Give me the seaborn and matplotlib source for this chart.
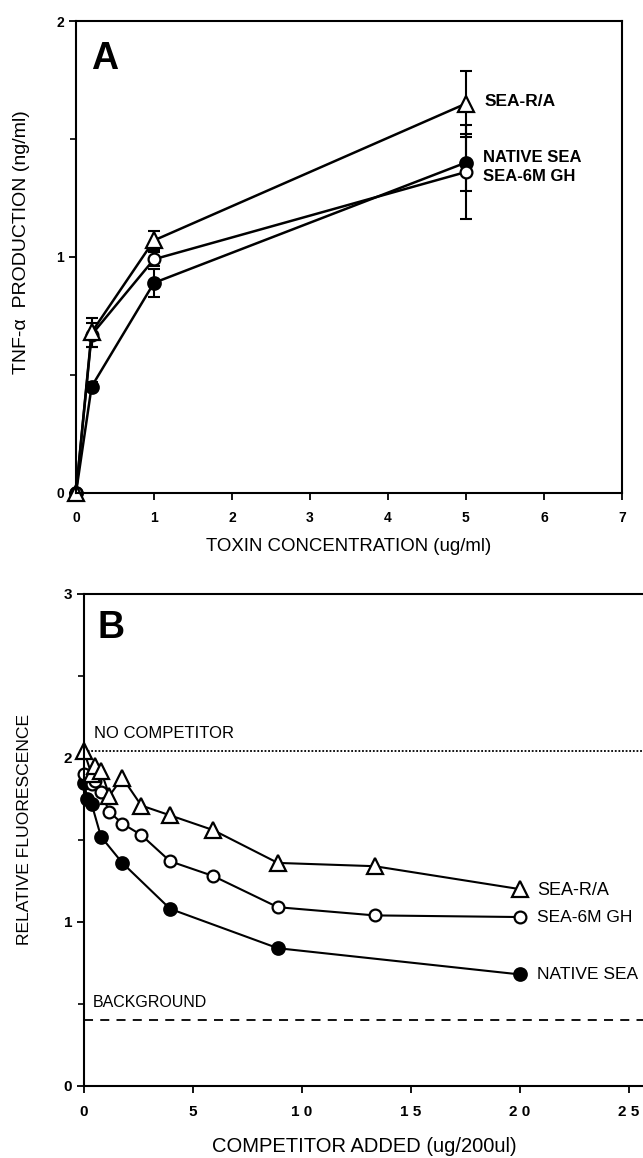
import matplotlib
matplotlib.use("Agg")
import matplotlib.pyplot as plt
import seaborn as sns

# Panel A: TNF-alpha production vs toxin concentration
tox_conc = [0, 0.2, 1, 5]
a_sea_ra = [0, 0.68, 1.07, 1.65]
a_sea_ra_err = [0, 0.06, 0.04, 0.14]
a_native = [0, 0.45, 0.89, 1.40]
a_native_err = [0, 0.02, 0.06, 0.12]
a_sea6m = [0, 0.67, 0.99, 1.36]
a_sea6m_err = [0, 0.05, 0.03, 0.20]

# Panel B: relative fluorescence vs competitor added
b_x_ra = [0, 0.35, 0.52, 0.78, 1.17, 1.76, 2.63, 3.95, 5.93, 8.89, 13.33, 20]
b_sea_ra = [2.04, 1.90, 1.95, 1.92, 1.77, 1.88, 1.71, 1.65, 1.56, 1.36, 1.34, 1.20]
b_x_6m = [0, 0.35, 0.52, 0.78, 1.17, 1.76, 2.63, 3.95, 5.93, 8.89, 13.33, 20]
b_sea6m = [1.90, 1.84, 1.86, 1.79, 1.67, 1.60, 1.53, 1.37, 1.28, 1.09, 1.04, 1.03]
b_x_nat = [0, 0.16, 0.35, 0.78, 1.76, 3.95, 8.89, 20]
b_native = [1.85, 1.75, 1.72, 1.52, 1.36, 1.08, 0.84, 0.68]
no_competitor = 2.04
background = 0.40

sns.set_style("ticks")
plt.rcParams["font.family"] = ["Liberation Sans", "DejaVu Sans"]
plt.rcParams["axes.linewidth"] = 1.5
plt.rcParams["axes.edgecolor"] = "black"
plt.rcParams["text.color"] = "black"
plt.rcParams["axes.labelcolor"] = "black"
plt.rcParams["xtick.color"] = "black"
plt.rcParams["ytick.color"] = "black"

fig = plt.figure(figsize=(6.43, 11.58), dpi=100)
ax_a = fig.add_axes([0.1182, 0.5745, 0.849, 0.4073])
ax_b = fig.add_axes([0.1306, 0.0622, 0.8694, 0.4249])

styles = {
    "tri": dict(marker="^", markersize=12, markerfacecolor="white"),
    "open": dict(marker="o", markersize=8.5, markerfacecolor="white"),
    "fill": dict(marker="o", markersize=9, markerfacecolor="black"),
}

# ---- panel A
for y, err, st in [(a_native, a_native_err, "fill"),
                   (a_sea6m, a_sea6m_err, "open"),
                   (a_sea_ra, a_sea_ra_err, "tri")]:
    ax_a.errorbar(tox_conc, y, yerr=err, fmt="none", ecolor="black",
                  elinewidth=1.5, capsize=4, capthick=1.5, clip_on=False)
    sns.lineplot(x=tox_conc, y=y, ax=ax_a, color="black", linewidth=1.8,
                 markeredgecolor="black", markeredgewidth=1.6, clip_on=False,
                 **styles[st])

ax_a.set_xlim(0, 7)
ax_a.set_ylim(0, 2)
ax_a.set_xticks(range(8))
ax_a.set_yticks([0, 1, 2])
ax_a.set_yticks([0.5, 1.5], minor=True)
ax_a.tick_params(axis="both", which="major", direction="out", length=5,
                 width=1.3, labelsize=10)
ax_a.tick_params(axis="y", which="minor", direction="out", length=4, width=1.2)
ax_a.tick_params(axis="x", pad=8.5)
for lab in ax_a.get_xticklabels() + ax_a.get_yticklabels():
    lab.set_fontweight("bold")
ax_a.set_xlabel("TOXIN CONCENTRATION (ug/ml)", fontsize=13.4, va="center")
ax_a.xaxis.set_label_coords(0.5, -0.115)
ax_a.set_ylabel("TNF-α  PRODUCTION (ng/ml)", fontsize=14, va="center")
ax_a.yaxis.set_label_coords(-0.099, 0.531)
ax_a.text(0.19, 1.84, "A", fontsize=27, fontweight="heavy", va="center")
ax_a.text(5.24, 1.66, "SEA-R/A", fontsize=12.5, fontweight="bold", va="center")
ax_a.text(5.22, 1.42, "NATIVE SEA", fontsize=12, fontweight="bold", va="center")
ax_a.text(5.22, 1.34, "SEA-6M GH", fontsize=12, fontweight="bold", va="center")

# ---- panel B
ax_b.axhline(no_competitor, color="black", linestyle=(0, (1, 1)), linewidth=1.3)
ax_b.axhline(background, color="black", linestyle=(0, (5, 4)), linewidth=1.3)
for x, y, st in [(b_x_nat, b_native, "fill"),
                 (b_x_6m, b_sea6m, "open"),
                 (b_x_ra, b_sea_ra, "tri")]:
    sns.lineplot(x=x, y=y, ax=ax_b, color="black", linewidth=1.5,
                 markeredgecolor="black", markeredgewidth=1.6, clip_on=False,
                 **styles[st])

ax_b.set_xlim(0, 25.64)
ax_b.set_ylim(0, 3)
ax_b.spines["right"].set_visible(False)
ax_b.set_xticks([0, 5, 10, 15, 20, 25])
ax_b.set_xticklabels(["0", "5", "1 0", "1 5", "2 0", "2 5"])
ax_b.set_yticks([0, 1, 2, 3])
ax_b.set_yticks([0.5, 1.5, 2.5], minor=True)
ax_b.tick_params(axis="both", which="major", direction="out", length=5,
                 width=1.3, labelsize=11)
ax_b.tick_params(axis="y", which="minor", direction="out", length=4, width=1.2)
ax_b.tick_params(axis="x", pad=9)
for lab in ax_b.get_xticklabels() + ax_b.get_yticklabels():
    lab.set_fontweight("bold")
ax_b.set_xlabel("COMPETITOR ADDED (ug/200ul)", fontsize=14.5, va="center")
ax_b.xaxis.set_label_coords(0.501, -0.124)
ax_b.set_ylabel("RELATIVE FLUORESCENCE", fontsize=12.6, va="center")
ax_b.yaxis.set_label_coords(-0.1055, 0.522)
ax_b.text(0.6, 2.79, "B", fontsize=27, fontweight="heavy", va="center")
ax_b.text(0.45, 2.15, "NO COMPETITOR", fontsize=12, va="center")
ax_b.text(0.4, 0.51, "BACKGROUND", fontsize=11.5, va="center")
ax_b.text(20.8, 1.19, "SEA-R/A", fontsize=13, va="center")
ax_b.text(20.8, 1.03, "SEA-6M GH", fontsize=12.5, va="center")
ax_b.text(20.8, 0.68, "NATIVE SEA", fontsize=12.5, va="center")

fig.savefig("out.png", dpi=100)
